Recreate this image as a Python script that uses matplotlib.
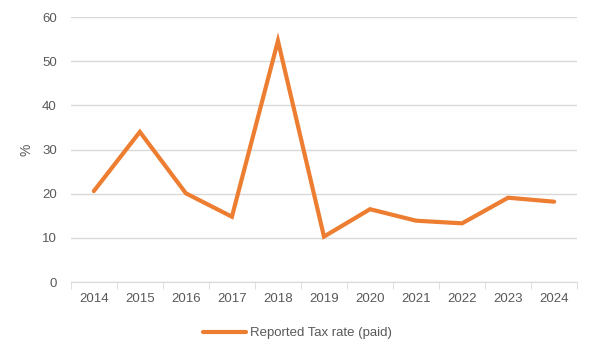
import matplotlib
matplotlib.use("Agg")
import matplotlib.pyplot as plt
import numpy as np

plt.rcParams['font.family'] = ['Liberation Sans', 'DejaVu Sans']

# data
years = ['2014', '2015', '2016', '2017', '2018', '2019', '2020', '2021', '2022', '2023', '2024']
tax_rate = [20.6, 34.0, 20.1, 14.8, 54.6, 10.3, 16.5, 13.9, 13.3, 19.1, 18.2]

text_col = '#595959'
grid_col = '#d9d9d9'
line_col = '#ed7d31'

fig = plt.figure(figsize=(5.95, 3.47), dpi=100)
ax = fig.add_axes([0.119, 0.187, 0.851, 0.764])

x = np.arange(len(years))
ax.plot(x, tax_rate, color=line_col, linewidth=3, solid_capstyle='round',
        solid_joinstyle='miter', label='Reported Tax rate (paid)')

ax.set_xlim(-0.5, len(years) - 0.5)
ax.set_ylim(0, 60)
ax.set_yticks(range(0, 61, 10))
ax.grid(axis='y', color=grid_col, linewidth=1)
ax.set_axisbelow(True)

# category labels centred, tick marks on the boundaries
ax.set_xticks(x)
ax.set_xticklabels(years)
ax.set_xticks(np.arange(-0.5, len(years), 1), minor=True)
ax.tick_params(axis='x', which='major', length=0, pad=8, labelsize=9.5, colors=text_col)
ax.tick_params(axis='x', which='minor', length=5, color=grid_col, direction='out')
ax.tick_params(axis='y', length=0, pad=10, labelsize=9.5, colors=text_col)

for s in ['top', 'right', 'left']:
    ax.spines[s].set_visible(False)
ax.spines['bottom'].set_color(grid_col)

ax.set_ylabel('%', color=text_col, fontsize=10, labelpad=6)

fig.legend(loc='center', bbox_to_anchor=(0.5, 0.04), frameon=False,
           fontsize=9.5, labelcolor=text_col, handlelength=3.2, handletextpad=0.3)

fig.savefig('out.png', dpi=100)
